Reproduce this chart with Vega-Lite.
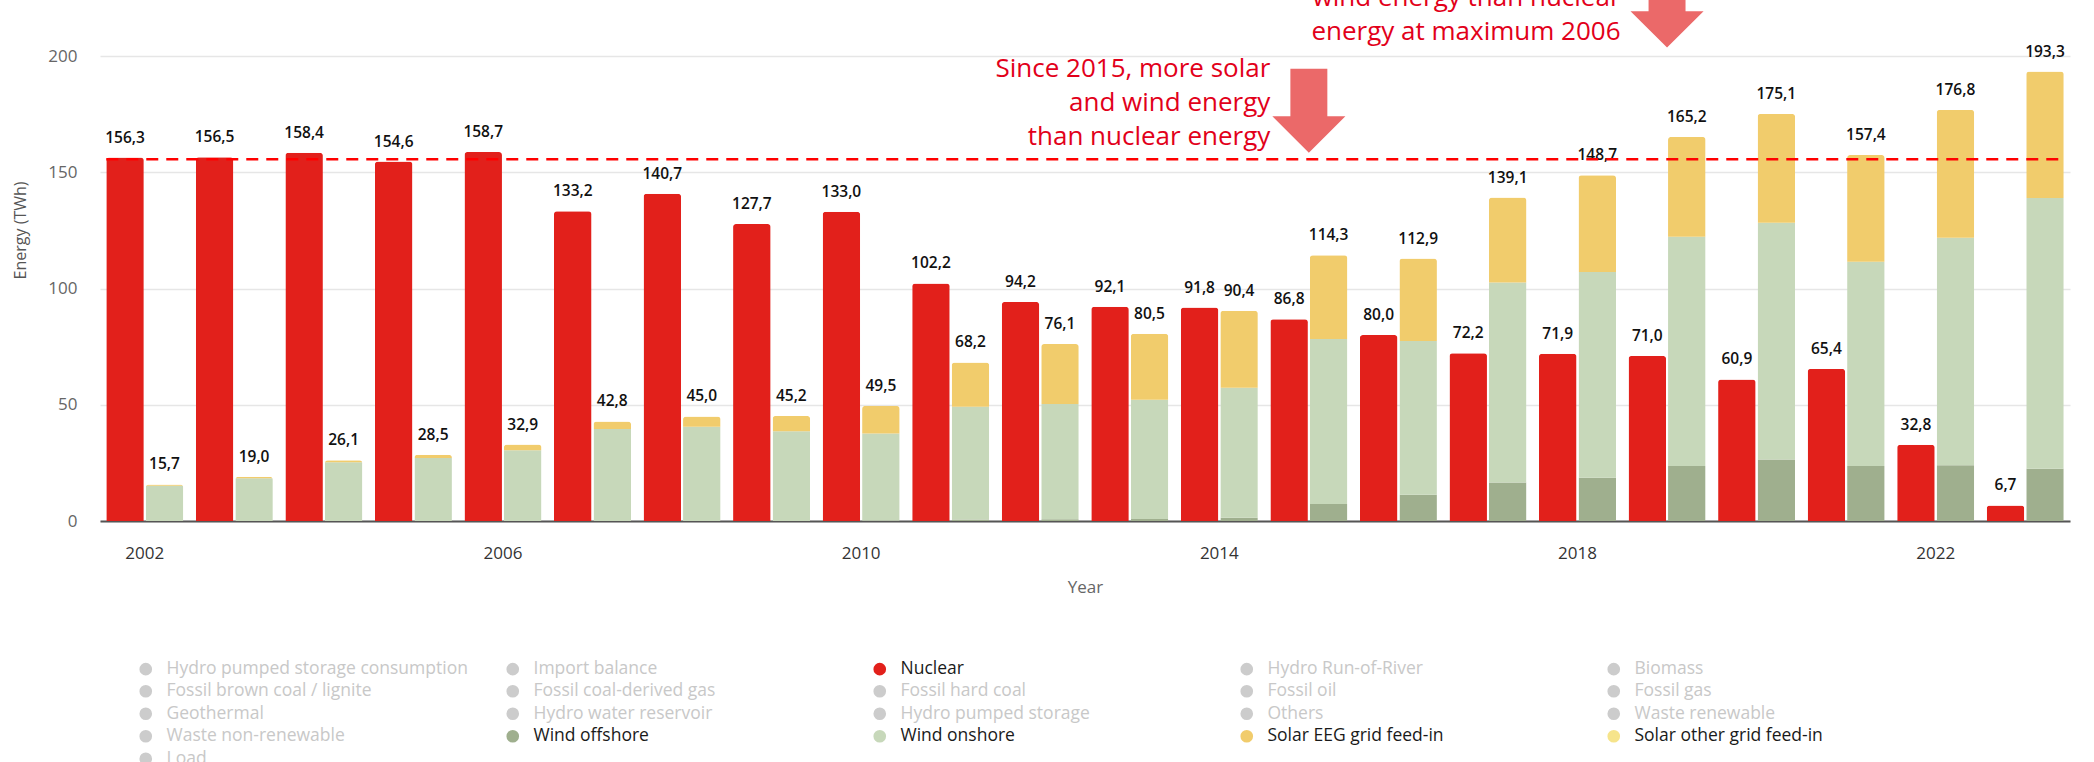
{
  "$schema": "https://vega.github.io/schema/vega-lite/v6.json",
  "autosize": {"type": "none"},
  "width": 1970,
  "height": 465,
  "padding": {"left": 100, "top": 56, "right": 24, "bottom": 241},
  "background": "white",
  "config": {
    "locale": {"number": {"decimal": ",", "thousands": ".", "grouping": [3], "currency": ["", " €"]}},
    "view": {"stroke": null},
    "font": "Open Sans"
  },
  "datasets": {
    "energy": [
      {"year": 2002, "source": "Nuclear", "value": 156.3},
      {"year": 2002, "source": "Wind onshore", "value": 15.2},
      {"year": 2002, "source": "Solar EEG grid feed-in", "value": 0.5},
      {"year": 2003, "source": "Nuclear", "value": 156.5},
      {"year": 2003, "source": "Wind onshore", "value": 18.4},
      {"year": 2003, "source": "Solar EEG grid feed-in", "value": 0.6},
      {"year": 2004, "source": "Nuclear", "value": 158.4},
      {"year": 2004, "source": "Wind onshore", "value": 25.3},
      {"year": 2004, "source": "Solar EEG grid feed-in", "value": 0.8},
      {"year": 2005, "source": "Nuclear", "value": 154.6},
      {"year": 2005, "source": "Wind onshore", "value": 27.1},
      {"year": 2005, "source": "Solar EEG grid feed-in", "value": 1.4},
      {"year": 2006, "source": "Nuclear", "value": 158.7},
      {"year": 2006, "source": "Wind onshore", "value": 30.4},
      {"year": 2006, "source": "Solar EEG grid feed-in", "value": 2.5},
      {"year": 2007, "source": "Nuclear", "value": 133.2},
      {"year": 2007, "source": "Wind onshore", "value": 39.6},
      {"year": 2007, "source": "Solar EEG grid feed-in", "value": 3.2},
      {"year": 2008, "source": "Nuclear", "value": 140.7},
      {"year": 2008, "source": "Wind onshore", "value": 40.5},
      {"year": 2008, "source": "Solar EEG grid feed-in", "value": 4.5},
      {"year": 2009, "source": "Nuclear", "value": 127.7},
      {"year": 2009, "source": "Wind onshore", "value": 38.6},
      {"year": 2009, "source": "Solar EEG grid feed-in", "value": 6.6},
      {"year": 2010, "source": "Nuclear", "value": 133.0},
      {"year": 2010, "source": "Wind offshore", "value": 0.2},
      {"year": 2010, "source": "Wind onshore", "value": 37.4},
      {"year": 2010, "source": "Solar EEG grid feed-in", "value": 11.9},
      {"year": 2011, "source": "Nuclear", "value": 102.2},
      {"year": 2011, "source": "Wind offshore", "value": 0.6},
      {"year": 2011, "source": "Wind onshore", "value": 48.5},
      {"year": 2011, "source": "Solar EEG grid feed-in", "value": 19.1},
      {"year": 2012, "source": "Nuclear", "value": 94.2},
      {"year": 2012, "source": "Wind offshore", "value": 0.7},
      {"year": 2012, "source": "Wind onshore", "value": 49.6},
      {"year": 2012, "source": "Solar EEG grid feed-in", "value": 25.8},
      {"year": 2013, "source": "Nuclear", "value": 92.1},
      {"year": 2013, "source": "Wind offshore", "value": 0.9},
      {"year": 2013, "source": "Wind onshore", "value": 51.2},
      {"year": 2013, "source": "Solar EEG grid feed-in", "value": 28.4},
      {"year": 2014, "source": "Nuclear", "value": 91.8},
      {"year": 2014, "source": "Wind offshore", "value": 1.4},
      {"year": 2014, "source": "Wind onshore", "value": 55.9},
      {"year": 2014, "source": "Solar EEG grid feed-in", "value": 33.1},
      {"year": 2015, "source": "Nuclear", "value": 86.8},
      {"year": 2015, "source": "Wind offshore", "value": 7.3},
      {"year": 2015, "source": "Wind onshore", "value": 71.0},
      {"year": 2015, "source": "Solar EEG grid feed-in", "value": 36.0},
      {"year": 2016, "source": "Nuclear", "value": 80.0},
      {"year": 2016, "source": "Wind offshore", "value": 11.3},
      {"year": 2016, "source": "Wind onshore", "value": 66.1},
      {"year": 2016, "source": "Solar EEG grid feed-in", "value": 35.5},
      {"year": 2017, "source": "Nuclear", "value": 72.2},
      {"year": 2017, "source": "Wind offshore", "value": 16.6},
      {"year": 2017, "source": "Wind onshore", "value": 86.0},
      {"year": 2017, "source": "Solar EEG grid feed-in", "value": 36.5},
      {"year": 2018, "source": "Nuclear", "value": 71.9},
      {"year": 2018, "source": "Wind offshore", "value": 18.6},
      {"year": 2018, "source": "Wind onshore", "value": 88.5},
      {"year": 2018, "source": "Solar EEG grid feed-in", "value": 41.6},
      {"year": 2019, "source": "Nuclear", "value": 71.0},
      {"year": 2019, "source": "Wind offshore", "value": 23.7},
      {"year": 2019, "source": "Wind onshore", "value": 98.6},
      {"year": 2019, "source": "Solar EEG grid feed-in", "value": 42.9},
      {"year": 2020, "source": "Nuclear", "value": 60.9},
      {"year": 2020, "source": "Wind offshore", "value": 26.4},
      {"year": 2020, "source": "Wind onshore", "value": 101.9},
      {"year": 2020, "source": "Solar EEG grid feed-in", "value": 46.8},
      {"year": 2021, "source": "Nuclear", "value": 65.4},
      {"year": 2021, "source": "Wind offshore", "value": 23.7},
      {"year": 2021, "source": "Wind onshore", "value": 87.8},
      {"year": 2021, "source": "Solar EEG grid feed-in", "value": 45.9},
      {"year": 2022, "source": "Nuclear", "value": 32.8},
      {"year": 2022, "source": "Wind offshore", "value": 24.0},
      {"year": 2022, "source": "Wind onshore", "value": 97.8},
      {"year": 2022, "source": "Solar EEG grid feed-in", "value": 55.0},
      {"year": 2023, "source": "Nuclear", "value": 6.7},
      {"year": 2023, "source": "Wind offshore", "value": 22.5},
      {"year": 2023, "source": "Wind onshore", "value": 116.4},
      {"year": 2023, "source": "Solar EEG grid feed-in", "value": 54.4}
    ],
    "reference": [{"from": 2002, "to": 2023, "value": 155.6}],
    "note1": [{"year": 2015, "value": 191, "label": "Since 2015, more solar \nand wind energy\nthan nuclear energy"}],
    "note2": [{"year": 2019, "value": 221.5, "label": "wind energy than nuclear\nenergy at maximum 2006"}],
    "arrows": [{"year": 2015, "value": 176.5}, {"year": 2019, "value": 221.7}]
  },
  "layer": [
    {
      "data": {"name": "energy"},
      "transform": [
        {"filter": "datum.source === 'Nuclear'"},
        {"calculate": "'Nuclear'", "as": "group"}
      ],
      "mark": {"type": "bar", "cornerRadiusTopLeft": 3, "cornerRadiusTopRight": 3},
      "encoding": {
        "x": {
          "field": "year", "type": "ordinal",
          "scale": {"paddingInner": 0.14, "paddingOuter": 0.07},
          "axis": {
            "title": "Year",
            "values": [2002, 2006, 2010, 2014, 2018, 2022],
            "labelAngle": 0,
            "ticks": false,
            "tickSize": 0,
            "domainColor": "#555555",
            "domainWidth": 2,
            "labelFont": "Open Sans",
            "labelFontSize": 17,
            "labelColor": "#333333",
            "labelPadding": 24,
            "titleFont": "Open Sans",
            "titleFontSize": 17,
            "titleFontWeight": "normal",
            "titleColor": "#666666",
            "titlePadding": 18
          }
        },
        "xOffset": {"field": "group", "type": "nominal", "scale": {"domain": ["Nuclear", "Renewables"], "paddingInner": 0.05}},
        "y": {
          "field": "value", "type": "quantitative",
          "scale": {"domain": [0, 200]},
          "axis": {
            "title": "Energy (TWh)",
            "values": [0, 50, 100, 150, 200],
            "domain": false,
            "ticks": false,
            "tickSize": 0,
            "gridColor": "#e6e6e6",
            "gridWidth": 1.5,
            "labelFont": "Open Sans",
            "labelFontSize": 17,
            "labelColor": "#666666",
            "labelPadding": 23,
            "titleFont": "Open Sans",
            "titleFontSize": 16,
            "titleFontWeight": "normal",
            "titleColor": "#555555",
            "titleAngle": -90,
            "titleX": -80,
            "titleY": 174,
            "titleAlign": "center",
            "titleBaseline": "middle"
          }
        },
        "color": {
          "field": "source", "type": "nominal",
          "scale": {
            "domain": [
              "Hydro pumped storage consumption", "Import balance", "Nuclear", "Hydro Run-of-River", "Biomass",
              "Fossil brown coal / lignite", "Fossil coal-derived gas", "Fossil hard coal", "Fossil oil", "Fossil gas",
              "Geothermal", "Hydro water reservoir", "Hydro pumped storage", "Others", "Waste renewable",
              "Waste non-renewable", "Wind offshore", "Wind onshore", "Solar EEG grid feed-in", "Solar other grid feed-in",
              "Load"
            ],
            "range": [
              "#cccccc", "#cccccc", "#e2201b", "#cccccc", "#cccccc",
              "#cccccc", "#cccccc", "#cccccc", "#cccccc", "#cccccc",
              "#cccccc", "#cccccc", "#cccccc", "#cccccc", "#cccccc",
              "#cccccc", "#9faf8e", "#c7d8ba", "#f1cc6c", "#f6e48b",
              "#cccccc"
            ]
          },
          "legend": {
            "title": null,
            "orient": "none",
            "legendX": 37,
            "legendY": 604,
            "columns": 5,
            "direction": "horizontal",
            "gridAlign": "all",
            "columnPadding": 36,
            "rowPadding": 3.5,
            "padding": 0,
            "symbolType": "circle",
            "symbolSize": 160,
            "symbolStrokeWidth": 0,
            "symbolOpacity": 1,
            "labelFont": "Open Sans",
            "labelFontSize": 17.5,
            "labelOffset": 12,
            "labelLimit": 500,
            "encode": {
              "labels": {
                "update": {
                  "fill": {"signal": "indexof(['Nuclear','Wind offshore','Wind onshore','Solar EEG grid feed-in','Solar other grid feed-in'], datum.value) >= 0 ? '#1a1a1a' : '#c8c8c8'"}
                }
              }
            }
          }
        }
      }
    },
    {
      "data": {"name": "energy"},
      "transform": [
        {"filter": "datum.source !== 'Nuclear'"},
        {"calculate": "'Renewables'", "as": "group"},
        {"calculate": "indexof(['Wind offshore','Wind onshore','Solar EEG grid feed-in','Solar other grid feed-in'], datum.source)", "as": "stackOrder"}
      ],
      "mark": {"type": "bar", "cornerRadiusTopLeft": 3, "cornerRadiusTopRight": 3},
      "encoding": {
        "x": {"field": "year", "type": "ordinal"},
        "xOffset": {"field": "group", "type": "nominal"},
        "y": {"field": "value", "type": "quantitative", "stack": "zero"},
        "color": {"field": "source", "type": "nominal"},
        "order": {"field": "stackOrder", "type": "quantitative", "sort": "ascending"}
      }
    },
    {
      "data": {"name": "energy"},
      "transform": [
        {"filter": "datum.source === 'Nuclear'"},
        {"calculate": "'Nuclear'", "as": "group"}
      ],
      "mark": {"type": "text", "baseline": "alphabetic", "dy": -15, "font": "Open Sans", "fontSize": 15.5, "fontWeight": 600, "color": "#111111"},
      "encoding": {
        "x": {"field": "year", "type": "ordinal"},
        "xOffset": {"field": "group", "type": "nominal"},
        "y": {"field": "value", "type": "quantitative"},
        "text": {"field": "value", "type": "quantitative", "format": ".1f"}
      }
    },
    {
      "data": {"name": "energy"},
      "transform": [
        {"filter": "datum.source !== 'Nuclear'"},
        {"aggregate": [{"op": "sum", "field": "value", "as": "total"}], "groupby": ["year"]},
        {"calculate": "'Renewables'", "as": "group"}
      ],
      "mark": {"type": "text", "baseline": "alphabetic", "dy": -15, "font": "Open Sans", "fontSize": 15.5, "fontWeight": 600, "color": "#111111"},
      "encoding": {
        "x": {"field": "year", "type": "ordinal"},
        "xOffset": {"field": "group", "type": "nominal"},
        "y": {"field": "total", "type": "quantitative"},
        "text": {"field": "total", "type": "quantitative", "format": ".1f"}
      }
    },
    {
      "data": {"name": "reference"},
      "mark": {"type": "rule", "color": "#ff0000", "strokeWidth": 2.5, "strokeDash": [12, 8]},
      "encoding": {
        "x": {"field": "from", "type": "ordinal", "bandPosition": 0},
        "x2": {"field": "to", "bandPosition": 1},
        "y": {"field": "value", "type": "quantitative"}
      }
    },
    {
      "data": {"name": "note1"},
      "mark": {"type": "text", "align": "right", "baseline": "alphabetic", "lineBreak": "\n", "lineHeight": 34, "font": "Open Sans", "fontSize": 26, "color": "#e2001a", "clip": false},
      "encoding": {
        "x": {"field": "year", "type": "ordinal", "bandPosition": 0},
        "y": {"field": "value", "type": "quantitative"},
        "text": {"field": "label", "type": "nominal"}
      }
    },
    {
      "data": {"name": "note2"},
      "mark": {"type": "text", "align": "right", "baseline": "alphabetic", "dx": -8, "lineBreak": "\n", "lineHeight": 34, "font": "Open Sans", "fontSize": 26, "color": "#e2001a", "clip": false},
      "encoding": {
        "x": {"field": "year", "type": "ordinal", "bandPosition": 0},
        "y": {"field": "value", "type": "quantitative"},
        "text": {"field": "label", "type": "nominal"}
      }
    },
    {
      "data": {"name": "arrows"},
      "mark": {
        "type": "point",
        "shape": "M-0.44,-1L0.44,-1L0.44,0.136L0.87,0.136L0,1L-0.87,0.136L-0.44,0.136Z",
        "size": 7056,
        "filled": true,
        "color": "#eb6969",
        "opacity": 1,
        "strokeWidth": 0,
        "clip": false
      },
      "encoding": {
        "x": {"field": "year", "type": "ordinal"},
        "y": {"field": "value", "type": "quantitative"}
      }
    }
  ]
}
